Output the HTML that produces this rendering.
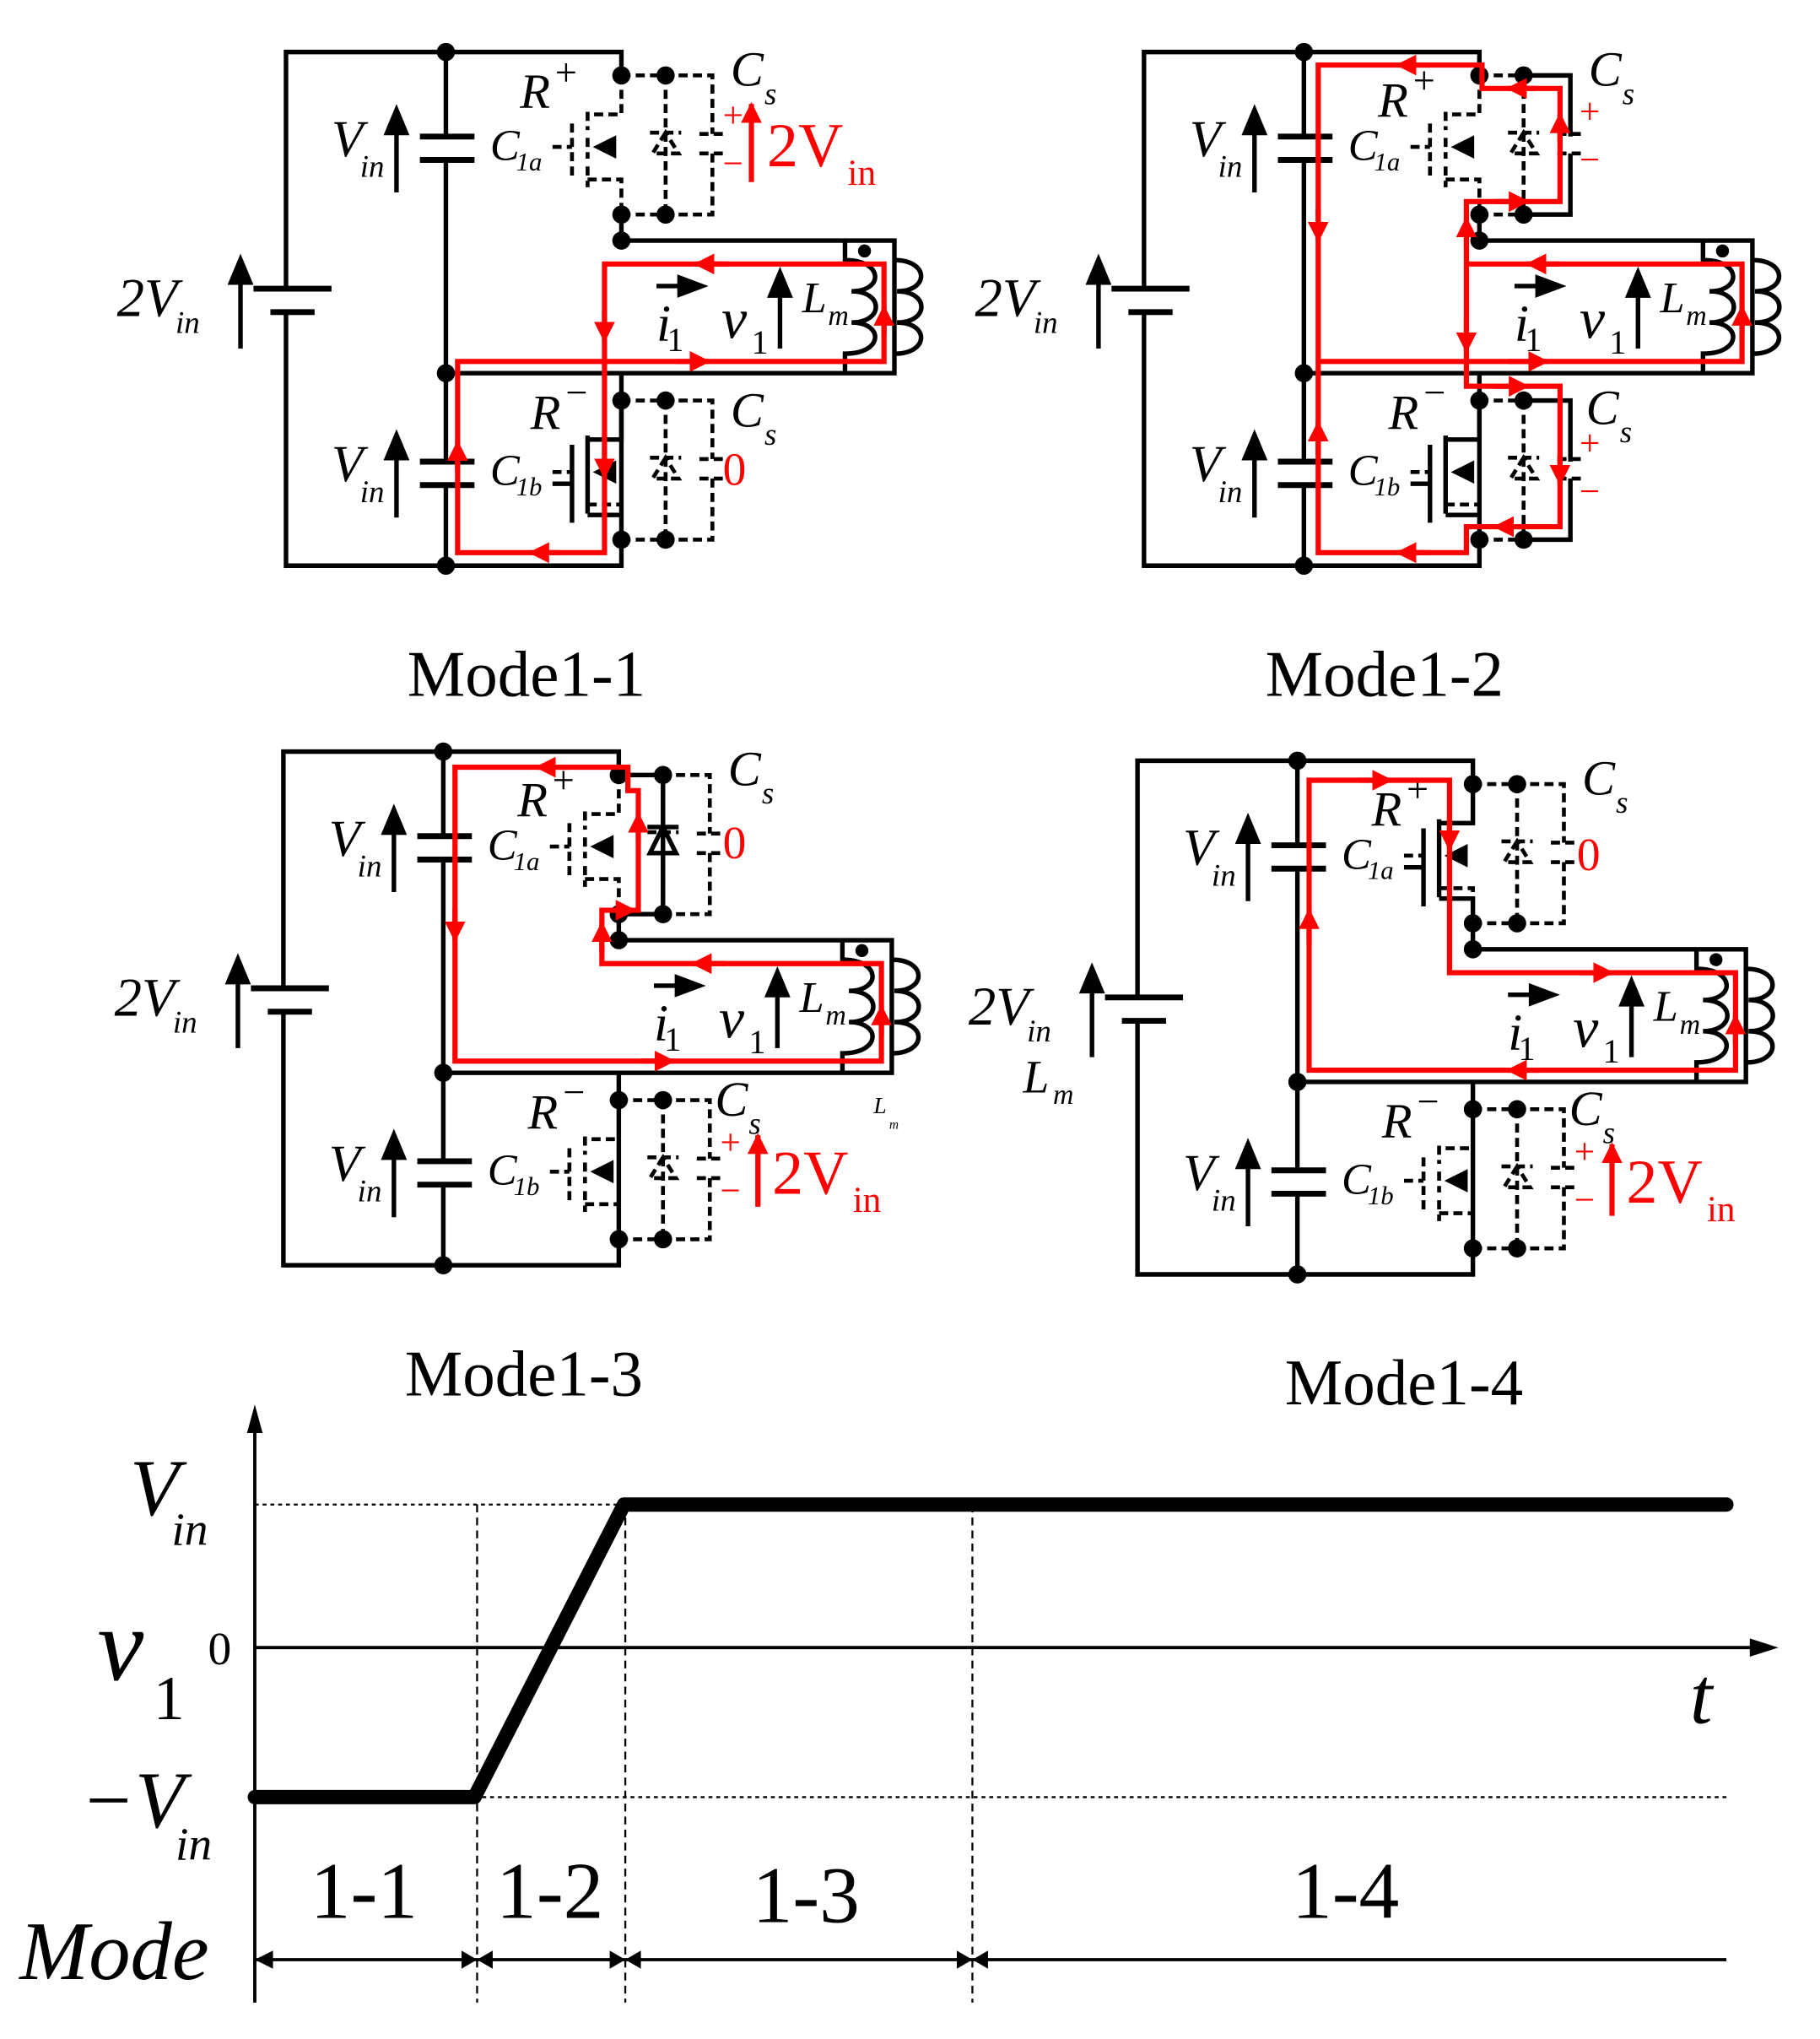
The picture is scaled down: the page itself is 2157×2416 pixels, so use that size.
<!DOCTYPE html>
<html><head><meta charset="utf-8"><style>
html,body{margin:0;padding:0;background:#fff}
svg{display:block}
text{font-family:"Liberation Serif",serif;fill:#000}
.it{font-style:italic}
.r{fill:#f00}
</style></head><body>
<svg width="2157" height="2416" viewBox="0 0 1400 1568" preserveAspectRatio="none" xmlns="http://www.w3.org/2000/svg">
<defs>
<marker id="ab" viewBox="0 0 10 10" refX="9" refY="5" markerWidth="5" markerHeight="5" orient="auto"><path d="M0,0L10,5L0,10z" fill="#000"/></marker>
<marker id="ar" viewBox="0 0 10 10" refX="9" refY="5" markerWidth="4" markerHeight="4" orient="auto"><path d="M0,0L10,5L0,10z" fill="#f00"/></marker>
<g id="sw">
 <path d="M478,0 V30 H452 M452,28 V42 M452,48 V64 M452,70 V86 M440,37 V77 M425,55 H440 M452,80 H478 V107" fill="none" stroke="#000" stroke-width="3" stroke-dasharray="7,4"/>
 <path d="M456,55 L474,46 L474,64 z" fill="#000" stroke="none"/>
 <path d="M478,0 H548 V45 M548,60 V107 H478 M538,45 H558 M538,60 H558 M512,0 V107 M500,44 H524 M512,44 L502,60 H522 z" fill="none" stroke="#000" stroke-width="3" stroke-dasharray="7,4"/>
 <g fill="#000" stroke="none"><circle cx="478" cy="0" r="7"/><circle cx="512" cy="0" r="7"/><circle cx="478" cy="107" r="7"/><circle cx="512" cy="107" r="7"/></g>
</g>
<g id="base">
 <g fill="none" stroke="#000" stroke-width="3.5">
 <path d="M343,40 H220 V222 M220,240 V435 H478 V308 M343,40 H478 V58 M478,165 V185 H688 V287 H343 M478,287 V308 M343,40 V105 M343,123 V355 M343,373 V435"/>
 <path d="M195,222 H255 M208,240 H242" stroke-width="4.5"/>
 <path d="M323,105 H365 M323,123 H365 M323,355 H365 M323,373 H365" stroke-width="4.5"/>
 <path d="M650,185 V200 C680,200 680,224 655,224 C680,224 680,248 655,248 C680,248 680,272 650,272 V287"/>
 <path d="M688,200 C715,200 715,224 690,224 C715,224 715,248 690,248 C715,248 715,272 688,272"/>
 <path d="M185,268 V215 M305,148 V100 M305,398 V350 M600,268 V225 M505,220 H525" stroke-width="3.5"/>
 </g>
 <g fill="#000" stroke="none">
 <circle cx="665" cy="193" r="5"/>
 <circle cx="343" cy="40" r="7"/><circle cx="343" cy="287" r="7"/><circle cx="343" cy="435" r="7"/><circle cx="478" cy="185" r="7"/>
 <path d="M185,195 l-10,24 h20z M305,80 l-10,24 h20z M305,330 l-10,24 h20z M600,205 l-10,24 h20z M545,220 l-24,-9 v18z"/>
 </g>
 <use href="#sw" y="58"/><use href="#sw" y="308"/>
</g>
</defs>

<!-- ========== Mode1-1 ========== -->
<g>
<use href="#base"/>
<path d="M478,308 V338 H452 M452,335 V395 M440,342 V402 M425,372 H440 M452,396 H478" fill="none" stroke="#000" stroke-width="3.5"/>
<text x="90" y="243" font-size="42" class="it">2V</text><text x="135" y="256" font-size="24" class="it">in</text>
<text x="255" y="120" font-size="40" class="it">V</text><text x="277" y="136" font-size="24" class="it">in</text>
<text x="255" y="370" font-size="40" class="it">V</text><text x="277" y="386" font-size="24" class="it">in</text>
<text x="377" y="123" font-size="34" class="it">C</text><text x="397" y="131" font-size="20" class="it">1a</text>
<text x="377" y="373" font-size="34" class="it">C</text><text x="397" y="381" font-size="20" class="it">1b</text>
<text x="400" y="83" font-size="38" class="it">R</text><text x="427" y="66" font-size="30">+</text>
<text x="408" y="330" font-size="38" class="it">R</text><text x="435" y="312" font-size="30">−</text>
<text x="562" y="66" font-size="38" class="it">C</text><text x="588" y="80" font-size="24" class="it">s</text>
<text x="562" y="328" font-size="38" class="it">C</text><text x="588" y="342" font-size="24" class="it">s</text>
<text x="505" y="262" font-size="40" class="it">i</text><text x="513" y="270" font-size="26">1</text>
<text x="555" y="260" font-size="44" class="it">v</text><text x="578" y="272" font-size="26">1</text>
<text x="617" y="240" font-size="34" class="it">L</text><text x="637" y="250" font-size="22" class="it">m</text>
<path d="M352,425 V278 H680 V203 H465 V425 Z" fill="none" stroke="#f00" stroke-width="4"/>
<g stroke="#f00" stroke-width="4" fill="none" marker-end="url(#ar)"><path d="M465,240 V262"/><path d="M465,345 V367"/><path d="M430,425 H408"/><path d="M352,362 V340"/><path d="M520,278 H545"/><path d="M680,258 V236"/><path d="M560,203 H535"/><path d="M578,140 V80"/></g>
<text x="556" y="98" font-size="28" class="r">+</text><text x="556" y="135" font-size="28" class="r">−</text>
<text x="590" y="128" font-size="48" class="r">2V</text><text x="652" y="142" font-size="28" class="r">in</text>
<text x="556" y="373" font-size="36" class="r">0</text>
<text x="405" y="535" font-size="50" text-anchor="middle">Mode1-1</text>
</g>

<!-- ========== Mode1-2 ========== -->
<g transform="translate(660,0)">
<use href="#base"/>
<path d="M478,308 V338 H452 M452,335 V395 M440,342 V402 M425,372 H440 M452,396 H478 M512,58 H548 V105 M548,118 V165 H512 M512,308 H548 V355 M548,368 V415 H512" fill="none" stroke="#000" stroke-width="3.5"/>
<text x="90" y="243" font-size="42" class="it">2V</text><text x="135" y="256" font-size="24" class="it">in</text>
<text x="255" y="120" font-size="40" class="it">V</text><text x="277" y="136" font-size="24" class="it">in</text>
<text x="255" y="370" font-size="40" class="it">V</text><text x="277" y="386" font-size="24" class="it">in</text>
<text x="377" y="123" font-size="34" class="it">C</text><text x="397" y="131" font-size="20" class="it">1a</text>
<text x="377" y="373" font-size="34" class="it">C</text><text x="397" y="381" font-size="20" class="it">1b</text>
<text x="400" y="90" font-size="38" class="it">R</text><text x="427" y="72" font-size="30">+</text>
<text x="408" y="330" font-size="38" class="it">R</text><text x="435" y="312" font-size="30">−</text>
<text x="562" y="66" font-size="38" class="it">C</text><text x="588" y="80" font-size="24" class="it">s</text>
<text x="560" y="326" font-size="38" class="it">C</text><text x="586" y="340" font-size="24" class="it">s</text>
<text x="505" y="262" font-size="40" class="it">i</text><text x="513" y="270" font-size="26">1</text>
<text x="555" y="260" font-size="44" class="it">v</text><text x="578" y="272" font-size="26">1</text>
<text x="617" y="240" font-size="34" class="it">L</text><text x="637" y="250" font-size="22" class="it">m</text>
<path d="M354,278 V50 H480 V68 H540 V155 H468 V203 H680 V278 Z M354,278 V425 H468 V405 H540 V297 H468 V203" fill="none" stroke="#f00" stroke-width="4"/>
<g stroke="#f00" stroke-width="4" fill="none" marker-end="url(#ar)"><path d="M354,160 V185"/><path d="M354,350 V325"/><path d="M440,50 H415"/><path d="M520,68 H500"/><path d="M540,110 V88"/><path d="M490,155 H515"/><path d="M468,190 V168"/><path d="M540,203 H515"/><path d="M468,245 V270"/><path d="M500,278 H530"/><path d="M680,258 V236"/><path d="M490,297 H515"/><path d="M540,350 V372"/><path d="M510,405 H490"/><path d="M440,425 H415"/></g>
<text x="555" y="95" font-size="28" class="r">+</text><text x="555" y="132" font-size="28" class="r">−</text>
<text x="555" y="350" font-size="28" class="r">+</text><text x="555" y="387" font-size="28" class="r">−</text>
<text x="405" y="535" font-size="50" text-anchor="middle">Mode1-2</text>
</g>

<!-- ========== Mode1-3 ========== -->
<g transform="translate(-2,538)">
<use href="#base"/>
<path d="M512,58 V165 M500,98 H524 M512,98 L502,118 H522 z M478,58 H512 M478,165 H512" fill="#fff" stroke="#000" stroke-width="3.5"/>
<text x="90" y="243" font-size="42" class="it">2V</text><text x="135" y="256" font-size="24" class="it">in</text>
<text x="255" y="120" font-size="40" class="it">V</text><text x="277" y="136" font-size="24" class="it">in</text>
<text x="255" y="370" font-size="40" class="it">V</text><text x="277" y="386" font-size="24" class="it">in</text>
<text x="377" y="123" font-size="34" class="it">C</text><text x="397" y="131" font-size="20" class="it">1a</text>
<text x="377" y="373" font-size="34" class="it">C</text><text x="397" y="381" font-size="20" class="it">1b</text>
<text x="400" y="90" font-size="38" class="it">R</text><text x="427" y="72" font-size="30">+</text>
<text x="408" y="330" font-size="38" class="it">R</text><text x="435" y="312" font-size="30">−</text>
<text x="562" y="66" font-size="38" class="it">C</text><text x="588" y="80" font-size="24" class="it">s</text>
<text x="552" y="320" font-size="38" class="it">C</text><text x="578" y="334" font-size="24" class="it">s</text>
<text x="505" y="262" font-size="40" class="it">i</text><text x="513" y="270" font-size="26">1</text>
<text x="555" y="260" font-size="44" class="it">v</text><text x="578" y="272" font-size="26">1</text>
<text x="617" y="240" font-size="34" class="it">L</text><text x="637" y="250" font-size="22" class="it">m</text>
<text x="674" y="318" font-size="18" class="it">L</text><text x="686" y="330" font-size="10" class="it">m</text>
<path d="M352,52 V278 H680 V203 H465 V162 H493 V70 H485 V52 Z" fill="none" stroke="#f00" stroke-width="4"/>
<g stroke="#f00" stroke-width="4" fill="none" marker-end="url(#ar)"><path d="M352,160 V185"/><path d="M495,278 H520"/><path d="M680,258 V236"/><path d="M560,203 H535"/><path d="M465,195 V172"/><path d="M475,162 H490"/><path d="M493,110 V88"/><path d="M440,52 H415"/><path d="M585,390 V335"/></g>
<text x="556" y="350" font-size="28" class="r">+</text><text x="556" y="387" font-size="28" class="r">−</text>
<text x="596" y="380" font-size="48" class="r">2V</text><text x="658" y="394" font-size="28" class="r">in</text>
<text x="558" y="122" font-size="36" class="r">0</text>
<text x="405" y="535" font-size="50" text-anchor="middle">Mode1-3</text>
</g>

<!-- ========== Mode1-4 ========== -->
<g transform="translate(655,545)">
<use href="#base"/>
<path d="M478,58 V88 H452 M452,85 V145 M440,92 V152 M425,122 H440 M452,146 H478 V165" fill="none" stroke="#000" stroke-width="3.5"/>
<text x="90" y="243" font-size="42" class="it">2V</text><text x="135" y="256" font-size="24" class="it">in</text>
<text x="132" y="295" font-size="36" class="it">L</text><text x="155" y="304" font-size="22" class="it">m</text>
<text x="255" y="120" font-size="40" class="it">V</text><text x="277" y="136" font-size="24" class="it">in</text>
<text x="255" y="370" font-size="40" class="it">V</text><text x="277" y="386" font-size="24" class="it">in</text>
<text x="377" y="123" font-size="34" class="it">C</text><text x="397" y="131" font-size="20" class="it">1a</text>
<text x="377" y="373" font-size="34" class="it">C</text><text x="397" y="381" font-size="20" class="it">1b</text>
<text x="400" y="90" font-size="38" class="it">R</text><text x="427" y="72" font-size="30">+</text>
<text x="408" y="330" font-size="38" class="it">R</text><text x="435" y="312" font-size="30">−</text>
<text x="562" y="66" font-size="38" class="it">C</text><text x="588" y="80" font-size="24" class="it">s</text>
<text x="552" y="320" font-size="38" class="it">C</text><text x="578" y="334" font-size="24" class="it">s</text>
<text x="505" y="262" font-size="40" class="it">i</text><text x="513" y="270" font-size="26">1</text>
<text x="555" y="260" font-size="44" class="it">v</text><text x="578" y="272" font-size="26">1</text>
<text x="617" y="240" font-size="34" class="it">L</text><text x="637" y="250" font-size="22" class="it">m</text>
<path d="M352,55 H460 V203 H680 V278 H352 Z" fill="none" stroke="#f00" stroke-width="4"/>
<g stroke="#f00" stroke-width="4" fill="none" marker-end="url(#ar)"><path d="M390,55 H415"/><path d="M460,85 V108"/><path d="M560,203 H585"/><path d="M680,258 V236"/><path d="M530,278 H505"/><path d="M352,180 V155"/><path d="M585,390 V335"/></g>
<text x="556" y="350" font-size="28" class="r">+</text><text x="556" y="387" font-size="28" class="r">−</text>
<text x="596" y="380" font-size="48" class="r">2V</text><text x="658" y="394" font-size="28" class="r">in</text>
<text x="558" y="124" font-size="36" class="r">0</text>
<text x="425" y="535" font-size="50" text-anchor="middle">Mode1-4</text>
</g>

<!-- ========== Waveform ========== -->
<g fill="none" stroke="#000">
 <path d="M196,1540 V1100" stroke-width="2.5"/>
 <path d="M196,1267 H1355" stroke-width="2.5"/>
 <path d="M196,1157 H480 M365,1382 H1330" stroke-width="1.5" stroke-dasharray="3,3"/>
 <path d="M367,1157 V1540 M481,1157 V1540 M748,1157 V1540" stroke-width="1.5" stroke-dasharray="6,4"/>
 <path d="M196,1382 H365 L480,1157 H1328" stroke-width="11" stroke-linejoin="round" stroke-linecap="round"/>
 <path d="M196,1507 H1328" stroke-width="2.5"/>
</g>
<g fill="#000">
 <path d="M196,1080 l-6,22 h12z M1368,1267 l-22,-7 v14z"/>
 <path d="M196,1507 l14,-7 v14z M367,1507 l-12,-7 v14z M367,1507 l12,-7 v14z M481,1507 l-12,-7 v14z M481,1507 l12,-7 v14z M748,1507 l-12,-7 v14z M748,1507 l12,-7 v14z"/>
</g>
<text x="100" y="1165" font-size="62" class="it">V</text><text x="132" y="1188" font-size="36" class="it">in</text>
<text x="75" y="1292" font-size="80" class="it">v</text><text x="118" y="1322" font-size="48">1</text>
<text x="160" y="1280" font-size="36" font-family="Liberation Sans">0</text>
<text x="62" y="1405" font-size="62" class="it">−V</text><text x="135" y="1430" font-size="36" class="it">in</text>
<text x="1300" y="1325" font-size="62" class="it">t</text>
<text x="280" y="1475" font-size="62" text-anchor="middle">1-1</text>
<text x="423" y="1475" font-size="62" text-anchor="middle">1-2</text>
<text x="620" y="1478" font-size="62" text-anchor="middle">1-3</text>
<text x="1035" y="1475" font-size="62" text-anchor="middle">1-4</text>
<text x="15" y="1522" font-size="64" class="it">Mode</text>
</svg>
</body></html>
